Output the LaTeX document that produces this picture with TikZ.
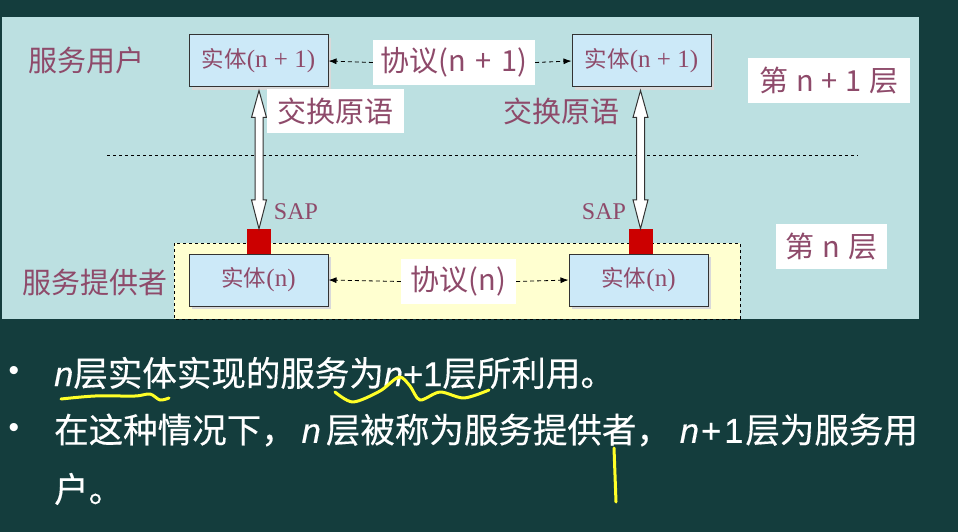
\documentclass[tikz,border=0pt]{standalone}
\usepackage{fontspec}
\setmainfont{Noto Sans CJK SC}
\newfontfamily\latsans{Liberation Sans}
\newfontfamily\latserif{Liberation Serif}
\newfontfamily\boldcjk[FakeBold=0.4]{Noto Sans CJK SC}
\newfontfamily\boldlat[FakeBold=0.4]{Liberation Sans}
\usetikzlibrary{calc,shadows,arrows.meta}
\definecolor{bgdark}{RGB}{20,61,61}
\definecolor{panel}{RGB}{188,224,225}
\definecolor{ybox}{RGB}{255,255,208}
\definecolor{entfill}{RGB}{204,233,248}
\definecolor{txtpurple}{RGB}{142,74,106}
\definecolor{sapred}{RGB}{204,0,0}
\definecolor{marker}{RGB}{255,255,40}
\newcommand\itn{{\boldlat\itshape n}}
\newcommand\entlat[1]{{\latserif\fontsize{25}{26}\selectfont #1}}
\begin{document}
\begin{tikzpicture}[x=1pt,y=-1pt,
  entity/.style={draw=black!80, line width=1pt, fill=entfill, minimum width=139pt,
    minimum height=52pt, inner sep=0pt, text=txtpurple, font=\fontsize{22.5}{24}\selectfont,
    drop shadow={shadow xshift=3pt,shadow yshift=-3pt,fill=black!15,opacity=1}},
  lbl/.style={text=txtpurple, font=\fontsize{29}{32}\selectfont, inner sep=0pt},
  wbox/.style={lbl, fill=white, minimum height=45pt},
  saplbl/.style={text=txtpurple, font=\latserif\fontsize{24}{26}\selectfont, inner sep=0pt},
  sapbox/.style={fill=sapred, minimum width=24pt, minimum height=25pt, inner sep=0pt},
  proto/.style={dash pattern=on 4pt off 3pt, line width=0.8pt, -{Latex[length=8pt,width=6pt]}},
  harrow/.style={draw=black!80, fill=white, line width=1pt, line join=miter},
  btext/.style={text=white, font=\boldcjk\fontsize{34.5}{40}\selectfont, inner sep=0pt, anchor=west},
  bul/.style={text=white, font=\latsans\fontsize{30}{32}\selectfont, inner sep=0pt},
  yel/.style={draw=marker, line width=3pt, line cap=round, line join=round}
]
\fill[bgdark] (0,0) rectangle (958,532);
\useasboundingbox (0,0) rectangle (958,532);
\fill[panel] (2,17) rectangle (919,319);
\draw[dashed, line width=0.8pt, fill=ybox] (174,243) rectangle (740,319);
\draw[dashed, line width=0.8pt] (107,155) -- (858,155);

% entities
\node[entity] (e1) at (258.5,61) {实体\entlat{(n + 1)}};
\node[entity] (e2) at (641.5,61) {实体\entlat{(n + 1)}};
\node[entity] (e3) at (258.5,280) {实体\entlat{(n)}};
\node[entity] (e4) at (638.5,280) {实体\entlat{(n)}};

% protocol labels
\node[wbox, minimum width=162pt] (p1) at (454,62.5) {协议(n\hspace{3pt} + \hspace{3pt}1)};
\node[wbox, minimum width=115pt] (p2) at (458.5,281.5) {协议(n)};
\draw[proto] (p1.west) -- (e1.east);
\draw[proto] (p1.east) -- (e2.west);
\draw[proto] (p2.west) -- (e3.east);
\draw[proto] (p2.east) -- (e4.west);

% SAP
\node[sapbox] (sap1) at (259,241.5) {};
\node[sapbox] (sap2) at (640.5,241.5) {};
\node[saplbl] (s1) at (296,212) {SAP};
\node[saplbl] (s2) at (604,212) {SAP};

% hollow double arrows
\foreach \s/\e in {sap1/e1, sap2/e2}{
  \draw[harrow] let \p1=($(\s.north |- \e.south)+(0,3)$), \p2=(\s.north) in
    (\p1) -- (\x1+7.5pt,\y1-27pt) -- (\x1+4pt,\y1-27pt) -- (\x1+4pt,\y2+29pt)
    -- (\x1+7.5pt,\y2+29pt) -- (\x1,\y2) -- (\x1-7.5pt,\y2+29pt) -- (\x1-4pt,\y2+29pt)
    -- (\x1-4pt,\y1-27pt) -- (\x1-7.5pt,\y1-27pt) -- cycle;
}

% primitive labels
\node[wbox, minimum width=137pt, minimum height=44pt] (x1) at (335.5,111) {交换原语};
\node[lbl] (x2) at (561,111) {交换原语};

% side labels
\node[lbl] (u) at (86,60) {服务用户};
\node[lbl] (pv) at (95,282) {服务提供者};
\node[wbox, minimum width=162pt] (l1) at (829,80.5) {第\hspace{8pt}n\hspace{8pt}+\hspace{8pt}1\hspace{8pt}层};
\node[wbox, minimum width=111pt] (l0) at (831.5,246.5) {第\hspace{8pt}n\hspace{8pt}层};

% bullet text
\node[bul] (b1) at (14,373) {•};
\node[bul] (b2) at (14,430) {•};
\node[btext] (t1) at (54,373) {\itn 层实体实现的服务为\itn{\boldlat+1}层所利用。};
\node[btext] (t2) at (54,430) {在这种情况下，\hspace{6pt}\itn\hspace{5pt}层被称为服务提供者，\hspace{9pt}\itn{\boldlat\hspace{2pt}+\hspace{3pt}1}\hspace{2pt}层为服务用};
\node[btext] (t3) at (54,489) {户。};

% hand annotations
\draw[yel] plot[smooth] coordinates {(61,399) (95,396) (135,396) (150,394) (160,400) (169,398)};
\draw[yel] plot[smooth] coordinates {(335,392) (353,402) (380,391) (399,377) (410,386) (420,400) (440,392) (464,398) (489,390)};
\draw[yel] (614,448) -- (616,502);
\end{tikzpicture}
\end{document}
